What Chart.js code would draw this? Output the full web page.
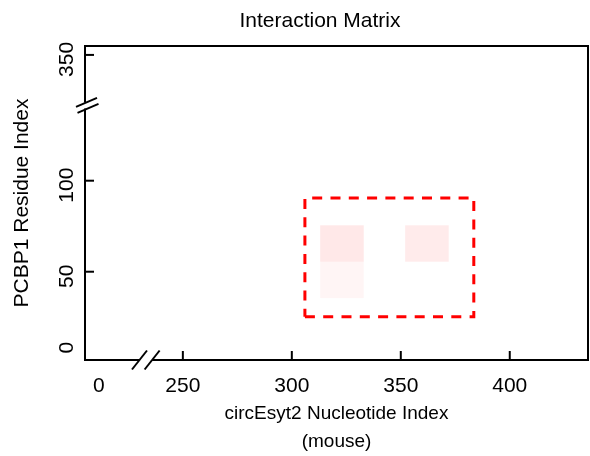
<!DOCTYPE html>
<html>
<head>
<meta charset="utf-8">
<script src="https://cdn.jsdelivr.net/npm/chart.js@4.4.1/dist/chart.umd.min.js"></script>
<style>
html,body{margin:0;padding:0;background:#fff;}
#wrap{width:590px;height:456px;}
</style>
</head>
<body>
<div id="wrap"><canvas id="c" width="590" height="456"></canvas></div>
<script>
// ---- texts ----
const chartTitle = 'Interaction Matrix';
const xTitle = ['circEsyt2 Nucleotide Index', '(mouse)'];
const yTitle = 'PCBP1 Residue Index';

// ---- tick labels ----
const xTickLabels = [0, 250, 300, 350, 400];
const yTickLabels = [0, 50, 100, 350];

// ---- interaction cells: bin centres (nucleotide, residue) and score ----
const cellNucleotide = [323, 323, 362];
const cellResidue = [65.5, 45.5, 65.5];
const cellScore = [0.09, 0.04, 0.08];
const cellBinNucleotide = 20;
const cellBinResidue = 20;

// ---- highlighted region (dashed box) ----
const regionNucleotide = [306, 383.5];
const regionResidue = [25.3, 90.5];

// ---- broken axes: visible continuous ranges, break gaps, far-off tick stand-ins ----
const xRange = [205.1, 435.9];
const yRange = [1.5, 174.0];
const xBreakAt = [230.1, 235.9];
const yBreakAt = [139.7, 143.0];
const xFarTick = {0: 211.5};
const yFarTick = {0: 10.8, 350: 169.1};

const FONT = "'Liberation Sans', Arial, Helvetica, sans-serif";
const xMap = v => (v in xFarTick ? xFarTick[v] : v);
const yMap = v => (v in yFarTick ? yFarTick[v] : v);

const cellData = cellNucleotide.map((x, i) => ({x: x, y: cellResidue[i], v: cellScore[i]}));
const regionData = [
  {x: regionNucleotide[0], y: regionResidue[0]},
  {x: regionNucleotide[1], y: regionResidue[0]},
  {x: regionNucleotide[1], y: regionResidue[1]},
  {x: regionNucleotide[0], y: regionResidue[1]},
  {x: regionNucleotide[0], y: regionResidue[0]}
];

const matrixPlugin = {
  id: 'matrixPlugin',
  beforeDraw(chart) {
    const ctx = chart.ctx;
    ctx.save();
    ctx.fillStyle = '#ffffff';
    ctx.fillRect(0, 0, chart.width, chart.height);
    ctx.restore();
  },
  afterLayout(chart) {
    if (chart.titleBlock) {
      chart.titleBlock.left = 50;
      chart.titleBlock.right = chart.width;
      chart.titleBlock.width = chart.width - 50;
    }
  },
  beforeDatasetsDraw(chart) {
    const ctx = chart.ctx;
    const xs = chart.scales.x, ys = chart.scales.y;
    ctx.save();
    chart.data.datasets[0].data.forEach(c => {
      const x0 = xs.getPixelForValue(c.x - cellBinNucleotide / 2);
      const x1 = xs.getPixelForValue(c.x + cellBinNucleotide / 2);
      const y0 = ys.getPixelForValue(c.y + cellBinResidue / 2);
      const y1 = ys.getPixelForValue(c.y - cellBinResidue / 2);
      ctx.fillStyle = 'rgba(255,0,0,' + c.v + ')';
      ctx.fillRect(x0, y0, x1 - x0, y1 - y0);
    });
    ctx.restore();
  },
  afterDraw(chart) {
    const ctx = chart.ctx;
    const xs = chart.scales.x, ys = chart.scales.y;
    const {left: L, right: R, top: T, bottom: B} = chart.chartArea;
    const xb0 = xs.getPixelForValue(xBreakAt[0]);
    const xb1 = xs.getPixelForValue(xBreakAt[1]);
    const yb0 = ys.getPixelForValue(yBreakAt[1]);
    const yb1 = ys.getPixelForValue(yBreakAt[0]);
    ctx.save();
    ctx.strokeStyle = '#000';
    ctx.lineWidth = 2;
    ctx.lineJoin = 'miter';
    ctx.lineCap = 'butt';
    ctx.beginPath();
    ctx.moveTo(L, yb0);
    ctx.lineTo(L, T);
    ctx.lineTo(R, T);
    ctx.lineTo(R, B);
    ctx.lineTo(xb1, B);
    ctx.stroke();
    ctx.beginPath();
    ctx.moveTo(xb0, B);
    ctx.lineTo(L, B);
    ctx.lineTo(L, yb1);
    ctx.stroke();
    const slash = (cx, cy, dx, dy) => {
      ctx.beginPath();
      ctx.moveTo(cx - dx, cy + dy);
      ctx.lineTo(cx + dx, cy - dy);
      ctx.stroke();
    };
    slash(xb0, B, 7.5, 9.5);
    slash(xb1, B, 7.5, 9.5);
    slash(L + 1.5, yb0, 10.5, 4.5);
    slash(L + 3, yb1, 10.5, 4.5);
    xTickLabels.forEach(v => {
      if (v in xFarTick) return;
      const px = xs.getPixelForValue(xMap(v));
      ctx.beginPath(); ctx.moveTo(px, B); ctx.lineTo(px, B - 9); ctx.stroke();
    });
    yTickLabels.forEach(v => {
      if (v === 0) return;
      const py = ys.getPixelForValue(yMap(v));
      ctx.beginPath(); ctx.moveTo(L, py); ctx.lineTo(L + 9, py); ctx.stroke();
    });
    ctx.restore();
  }
};

new Chart(document.getElementById('c'), {
  type: 'scatter',
  data: {
    datasets: [
      {label: 'interaction', data: cellData, pointRadius: 0, pointHoverRadius: 0, showLine: false},
      {label: 'region', data: regionData, showLine: true, fill: false, tension: 0,
       borderColor: '#ff0000', borderWidth: 3, borderDash: [10, 8.3],
       borderCapStyle: 'butt', borderJoinStyle: 'miter', pointRadius: 0, pointHoverRadius: 0}
    ]
  },
  options: {
    responsive: false,
    animation: false,
    devicePixelRatio: 1,
    layout: {padding: {left: 0, right: 2, top: 0, bottom: 0}},
    plugins: {
      legend: {display: false},
      tooltip: {enabled: false},
      title: {display: true, text: chartTitle, color: '#000',
              font: {family: FONT, size: 21, weight: 'normal', lineHeight: 1.2},
              padding: {top: 8.4, bottom: 12.4}}
    },
    scales: {
      x: {
        type: 'linear', min: xRange[0], max: xRange[1],
        grid: {display: false, drawTicks: false, tickLength: 0},
        border: {display: false},
        afterBuildTicks: s => { s.ticks = xTickLabels.map(v => ({value: xMap(v)})); },
        afterFit: s => { s.height = 96; },
        ticks: {autoSkip: false, minRotation: 0, maxRotation: 0, padding: 13.4, color: '#000',
                font: {family: FONT, size: 21},
                callback: (val, i) => String(xTickLabels[i])},
        title: {display: true, text: xTitle, color: '#000',
                font: {family: FONT, size: 19, lineHeight: 1.474},
                padding: {top: 0, bottom: 0}}
      },
      y: {
        type: 'linear', min: yRange[0], max: yRange[1],
        grid: {display: false, drawTicks: false, tickLength: 0},
        border: {display: false},
        afterBuildTicks: s => { s.ticks = yTickLabels.map(v => ({value: yMap(v)})); },
        afterFit: s => { s.width = 85; },
        ticks: {autoSkip: false, minRotation: 90, maxRotation: 90, crossAlign: 'center',
                padding: 0, labelOffset: 4.5, color: '#000',
                font: {family: FONT, size: 21},
                callback: (val, i) => String(yTickLabels[i])},
        title: {display: true, text: yTitle, color: '#000',
                font: {family: FONT, size: 21, lineHeight: 1.2},
                padding: {top: 9.4, bottom: 0}}
      }
    }
  },
  plugins: [matrixPlugin]
});
</script>
</body>
</html>
